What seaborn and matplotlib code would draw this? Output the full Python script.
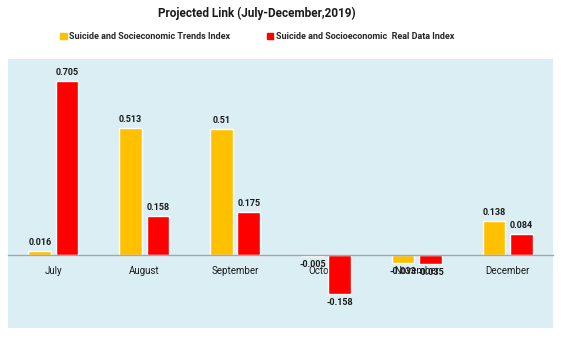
import matplotlib
matplotlib.use("Agg")
import matplotlib.pyplot as plt
import seaborn as sns
import pandas as pd

months = ["July", "August", "September", "October", "November", "December"]
trends_index = [0.016, 0.513, 0.51, -0.005, -0.033, 0.138]
real_index = [0.705, 0.158, 0.175, -0.158, -0.035, 0.084]
series_names = ["Suicide and Socieconomic Trends Index",
                "Suicide and Socioeconomic  Real Data Index"]
colors = ["#FFC000", "#FF0000"]

df = pd.DataFrame({
    "month": months * 2,
    "value": trends_index + real_index,
    "series": [series_names[0]] * len(months) + [series_names[1]] * len(months),
})

sns.set_theme(style="white")
plt.rcParams["font.family"] = ["Roboto", "DejaVu Sans"]

fig = plt.figure(figsize=(5.69, 3.52), dpi=100)
ax = fig.add_axes([0.014, 0.068, 0.958, 0.764])
ax.set_facecolor("#DAEEF3")

sns.barplot(data=df, x="month", y="value", hue="series", order=months,
            hue_order=series_names, palette=colors, width=0.6, gap=0.17,
            saturation=1, ax=ax, legend=False)

for cont in ax.containers:
    labels = [f"{v:g}" for v in cont.datavalues]
    ax.bar_label(cont, labels=labels, padding=3, fontsize=6.5,
                 fontweight="bold", color="#1a1a1a")

ax.set_xlim(-0.5, 5.5)
ax.set_ylim(-0.296, 0.794)
ax.set_xlabel("")
ax.set_ylabel("")
ax.set_yticks([])
for s in ["top", "right", "left"]:
    ax.spines[s].set_visible(False)
ax.spines["bottom"].set_position(("data", 0))
ax.spines["bottom"].set_color("#A6A6A6")
ax.spines["bottom"].set_linewidth(1.0)
ax.tick_params(axis="x", length=0, pad=8, labelsize=7, colors="#1a1a1a")

fig.text(0.452, 0.962, "Projected Link (July-December,2019)", ha="center",
         va="center", fontsize=8.5, fontweight="bold", color="#1a1a1a")

handles = [plt.Rectangle((0, 0), 1, 1, color=c) for c in colors]
fig.legend(handles, series_names, loc="center", bbox_to_anchor=(0.452, 0.895),
           ncol=2, frameon=False, handlelength=0.7,
           handleheight=0.7, handletextpad=0.3, columnspacing=4,
           prop={"weight": "bold", "size": 6.5})

fig.savefig("out.png", dpi=100, facecolor="white")
